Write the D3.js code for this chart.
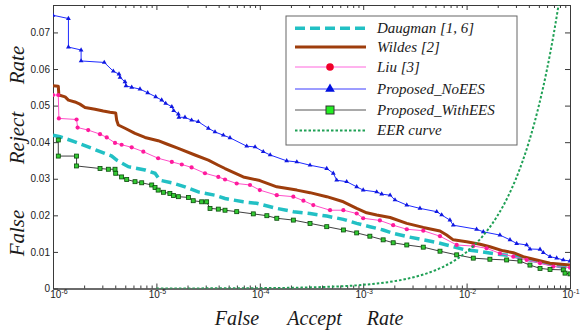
<!DOCTYPE html>
<html><head><meta charset="utf-8">
<script src="https://cdn.jsdelivr.net/npm/d3@7"></script>
<style>
html,body{margin:0;padding:0;background:#fff;}
svg{display:block;}
</style></head>
<body>
<svg id="chart" width="580" height="330"></svg>
<script>
// ---------- data ----------
const seriesNames = ["Daugman [1, 6]", "Wildes [2]", "Liu [3]", "Proposed_NoEES", "Proposed_WithEES", "EER curve"];

const daugmanFAR = [1.0e-6,1.17e-6,1.63e-6,2.19e-6,3.18e-6,3.70e-6,4.13e-6,5.35e-6,7.76e-6,9.7e-6,1.08e-5,1.41e-5,1.89e-5,2.54e-5,3.69e-5,4.61e-5,6.92e-5,9.33e-5,1.46e-4,2.11e-4,3.06e-4,4.44e-4,6.43e-4,8.65e-4,1.16e-3,1.56e-3,1.95e-3,2.64e-3,3.81e-3,5.14e-3,6.41e-3,9.29e-3,1.35e-2,1.95e-2,2.83e-2,4.10e-2,5.96e-2,8.0e-2,0.1];
const daugmanFRR = [0.0419,0.0415,0.0401,0.0387,0.0369,0.0362,0.0351,0.0333,0.0324,0.0315,0.0296,0.0289,0.0278,0.0264,0.0255,0.0246,0.0237,0.0233,0.0219,0.0210,0.0205,0.0198,0.0189,0.0178,0.0169,0.0160,0.0151,0.0142,0.0133,0.0126,0.0119,0.0107,0.0101,0.0094,0.0089,0.0078,0.0069,0.0060,0.0058];

const wildesFAR = [1.0e-6,1.125e-6,1.14e-6,1.31e-6,1.41e-6,1.63e-6,1.82e-6,2.04e-6,2.55e-6,3.06e-6,3.56e-6,4.04e-6,4.13e-6,4.28e-6,4.97e-6,6.21e-6,7.76e-6,1.04e-5,1.26e-5,1.63e-5,2.36e-5,3.18e-5,3.97e-5,4.61e-5,6.92e-5,1.0e-4,1.46e-4,2.28e-4,3.06e-4,4.44e-4,6.43e-4,8.65e-4,1.08e-3,1.35e-3,1.82e-3,2.64e-3,3.81e-3,5.53e-3,6.41e-3,7.43e-3,1.0e-2,1.35e-2,1.68e-2,2.26e-2,2.83e-2,3.53e-2,4.76e-2,6.41e-2,0.1];
const wildesFRR = [0.0554,0.0553,0.0529,0.0524,0.0515,0.0510,0.0504,0.0495,0.0490,0.0485,0.0482,0.0480,0.0460,0.0447,0.0438,0.0424,0.0413,0.0404,0.0395,0.0383,0.0365,0.0351,0.0337,0.0328,0.0305,0.0295,0.0278,0.0269,0.0262,0.0251,0.0237,0.0219,0.0207,0.0201,0.0194,0.0178,0.0167,0.0157,0.0146,0.0133,0.0128,0.0121,0.0114,0.0103,0.0098,0.0087,0.0078,0.0069,0.0064];

const liuFAR = [1.0e-6,1.125e-6,1.14e-6,1.69e-6,1.73e-6,2.19e-6,2.85e-6,3.31e-6,3.98e-6,4.61e-6,5.77e-6,7.47e-6,1.04e-5,1.41e-5,1.76e-5,2.19e-5,2.95e-5,3.97e-5,4.61e-5,5.98e-5,8.04e-5,1.0e-4,1.46e-4,2.11e-4,2.64e-4,3.29e-4,4.78e-4,6.43e-4,8.65e-4,1.0e-3,1.45e-3,1.95e-3,2.64e-3,3.81e-3,5.53e-3,8.02e-3,1.16e-2,1.56e-2,2.10e-2,2.83e-2,3.81e-2,5.13e-2,6.90e-2,0.1];
const liuFRR = [0.0529,0.0529,0.0465,0.0462,0.0440,0.0433,0.0422,0.0413,0.0398,0.0393,0.0386,0.0374,0.0356,0.0346,0.0339,0.0331,0.0315,0.0305,0.0298,0.0287,0.0283,0.0269,0.0255,0.0251,0.0240,0.0228,0.0214,0.0214,0.0205,0.0192,0.0186,0.0173,0.0162,0.0158,0.0143,0.0119,0.0116,0.0110,0.0096,0.0087,0.0078,0.0069,0.0060,0.0057];

const noEesFAR = [1.0e-6,1.41e-6,1.41e-6,1.87e-6,1.87e-6,3.13e-6,3.83e-6,4.35e-6,4.45e-6,4.97e-6,5.08e-6,5.77e-6,6.94e-6,8.24e-6,9.85e-6,1.125e-5,1.23e-5,1.41e-5,1.47e-5,1.63e-5,1.65e-5,1.89e-5,2.19e-5,2.54e-5,3.18e-5,3.69e-5,4.44e-5,5.15e-5,7.47e-5,9.0e-5,1.08e-4,1.26e-4,1.82e-4,2.28e-4,3.06e-4,4.44e-4,5.14e-4,5.54e-4,6.92e-4,8.65e-4,1.0e-3,1.35e-3,1.51e-3,1.82e-3,2.03e-3,2.64e-3,3.54e-3,5.14e-3,5.74e-3,6.9e-3,7.43e-3,1.25e-2,1.45e-2,2.10e-2,2.63e-2,3.05e-2,3.81e-2,4.10e-2,5.13e-2,5.52e-2,6.41e-2,7.43e-2,8.61e-2,0.1];
const noEesFRR = [0.0747,0.0738,0.0660,0.0652,0.0622,0.0618,0.0594,0.0586,0.0577,0.0565,0.0554,0.0550,0.0545,0.0535,0.0524,0.0515,0.0506,0.0497,0.0486,0.0477,0.0468,0.0468,0.0460,0.0456,0.0438,0.0428,0.0419,0.0412,0.0389,0.0387,0.0374,0.0365,0.0349,0.0346,0.0337,0.0328,0.0315,0.0296,0.0292,0.0278,0.0269,0.0264,0.0258,0.0255,0.0242,0.0228,0.0219,0.0210,0.0201,0.0187,0.0173,0.0162,0.0155,0.0146,0.0133,0.0123,0.0119,0.0108,0.0107,0.0098,0.0087,0.0083,0.0078,0.0075];

const withEesFAR = [1.125e-6,1.125e-6,1.69e-6,1.69e-6,2.85e-6,3.43e-6,3.98e-6,4.04e-6,4.61e-6,5.16e-6,6.21e-6,7.21e-6,9.01e-6,9.7e-6,1.04e-5,1.17e-5,1.35e-5,1.46e-5,1.63e-5,2.04e-5,2.27e-5,2.74e-5,3.06e-5,3.30e-5,3.97e-5,4.61e-5,5.98e-5,8.65e-5,1.17e-4,1.46e-4,2.11e-4,3.06e-4,4.44e-4,6.43e-4,8.65e-4,1.16e-3,1.56e-3,1.95e-3,2.64e-3,3.81e-3,5.53e-3,8.02e-3,1.16e-2,1.68e-2,2.44e-2,3.28e-2,4.10e-2,5.13e-2,6.41e-2,8.61e-2,8.95e-2,0.1];
const withEesFRR = [0.0406,0.0362,0.0362,0.0335,0.0328,0.0326,0.0326,0.0315,0.0305,0.0298,0.0292,0.0289,0.0283,0.0276,0.0269,0.0263,0.0260,0.0254,0.0251,0.0249,0.0240,0.0237,0.0237,0.0219,0.0217,0.0214,0.0210,0.0204,0.0199,0.0192,0.0187,0.0178,0.0169,0.0160,0.0152,0.0143,0.0133,0.0125,0.0119,0.0113,0.0102,0.0092,0.0083,0.0080,0.0078,0.0075,0.0064,0.0055,0.0052,0.0051,0.0042,0.0040];

const eerFAR = [1e-5,1e-4,3e-4,1e-3,2e-3,3e-3,4e-3,5e-3,6e-3,8e-3,0.01,0.012,0.014,0.016,0.018,0.02,0.025,0.03,0.035,0.04,0.045,0.05,0.055,0.06,0.065,0.07,0.0775];
const eerFRR = [1e-5,1e-4,3e-4,1e-3,2e-3,3e-3,4e-3,5e-3,6e-3,8e-3,0.01,0.012,0.014,0.016,0.018,0.02,0.025,0.03,0.035,0.04,0.045,0.05,0.055,0.06,0.065,0.07,0.0775];

const xMajorTicks = [1e-6,1e-5,1e-4,1e-3,1e-2,1e-1];
const xTickExponents = ["-6","-5","-4","-3","-2","-1"];
const yTicks = [0,0.01,0.02,0.03,0.04,0.05,0.06,0.07];
const yTickLabels = ["0","0.01","0.02","0.03","0.04","0.05","0.06","0.07"];

// ---------- layout ----------
const svg = d3.select("#chart");
const L = 53, R = 570, T = 5, B = 288.5;
const x = d3.scaleLog().domain([1e-6, 0.1]).range([L, R]);
const y = d3.scaleLinear().domain([0, 0.0775]).range([B, T]);
const axisColor = "#3a3a3a";
const serif = "'Liberation Serif','DejaVu Serif',serif";
const sans = "'Liberation Sans',Arial,sans-serif";

const xMinorTicks = [];
xMajorTicks.slice(0, -1).forEach(m => { for (let k = 2; k <= 9; k++) xMinorTicks.push(m * k); });

svg.append("defs").append("clipPath").attr("id", "clip")
  .append("rect").attr("x", L).attr("y", T).attr("width", R - L).attr("height", B - T);

// axes
function styleAxis(g) {
  g.selectAll("path,line").attr("stroke", axisColor).attr("stroke-width", 1);
  g.selectAll("text").attr("fill", "#222").attr("font-family", sans).attr("font-size", 10);
}
svg.append("g").attr("transform", `translate(0,${B})`)
  .call(d3.axisBottom(x).tickValues(xMinorTicks).tickSize(-3).tickSizeOuter(0).tickFormat(() => "")).call(styleAxis);
svg.append("g").attr("transform", `translate(0,${T})`)
  .call(d3.axisTop(x).tickValues(xMinorTicks).tickSize(-3).tickSizeOuter(0).tickFormat(() => "")).call(styleAxis);
const xb = svg.append("g").attr("transform", `translate(0,${B})`)
  .call(d3.axisBottom(x).tickValues(xMajorTicks).tickSize(-5).tickSizeOuter(0).tickFormat(() => "")).call(styleAxis);
svg.append("g").attr("transform", `translate(0,${T})`)
  .call(d3.axisTop(x).tickValues(xMajorTicks).tickSize(-5).tickSizeOuter(0).tickFormat(() => "")).call(styleAxis);
svg.append("g").attr("transform", `translate(${L},0)`)
  .call(d3.axisLeft(y).tickValues(yTicks).tickSize(-5).tickSizeOuter(0).tickPadding(3)
    .tickFormat((d, i) => yTickLabels[i])).call(styleAxis);
svg.append("g").attr("transform", `translate(${R},0)`)
  .call(d3.axisRight(y).tickValues(yTicks).tickSize(-5).tickSizeOuter(0).tickFormat(() => "")).call(styleAxis);

// x tick labels with superscript exponents
const xl = svg.append("g").attr("font-family", sans).attr("fill", "#222");
xMajorTicks.forEach((v, i) => {
  const t = xl.append("text").attr("x", x(v) + (i === 0 ? 6 : 1)).attr("y", 297.5)
    .attr("text-anchor", "middle").attr("font-size", 10);
  t.append("tspan").text("10");
  t.append("tspan").attr("dy", -4).attr("font-size", 7).text(xTickExponents[i]);
});

// ---------- series ----------
const plot = svg.append("g").attr("clip-path", "url(#clip)");
const zip = (a, b) => a.map((v, i) => [v, b[i]]);
const line = d3.line().x(d => x(d[0])).y(d => y(d[1]));

const daugman = zip(daugmanFAR, daugmanFRR);
const wildes = zip(wildesFAR, wildesFRR);
const liu = zip(liuFAR, liuFRR);
const noEes = zip(noEesFAR, noEesFRR);
const withEes = zip(withEesFAR, withEesFRR);
const eer = zip(eerFAR, eerFRR);

plot.append("path").datum(daugman).attr("d", line).attr("fill", "none")
  .attr("stroke", "#22c0c4").attr("stroke-width", 3.5).attr("stroke-dasharray", "10,5");
plot.append("path").datum(wildes).attr("d", line).attr("fill", "none")
  .attr("stroke", "#9e3d0c").attr("stroke-width", 3).attr("stroke-linejoin", "round");
plot.append("path").datum(liu).attr("d", line).attr("fill", "none")
  .attr("stroke", "#ff4fc8").attr("stroke-width", 1);
plot.selectAll(".liuM").data(liu).join("circle")
  .attr("cx", d => x(d[0])).attr("cy", d => y(d[1])).attr("r", 2.1).attr("fill", "#ff1a9c");
plot.append("path").datum(noEes).attr("d", line).attr("fill", "none")
  .attr("stroke", "#1f2bff").attr("stroke-width", 1);
const tri = d3.symbol().type(d3.symbolTriangle).size(10);
plot.selectAll(".noM").data(noEes).join("path")
  .attr("transform", d => `translate(${x(d[0])},${y(d[1])})`).attr("d", tri).attr("fill", "#1018e0");
plot.append("path").datum(withEes).attr("d", line).attr("fill", "none")
  .attr("stroke", "#2a2a2a").attr("stroke-width", 0.9);
plot.selectAll(".wM").data(withEes).join("rect")
  .attr("x", d => x(d[0]) - 2).attr("y", d => y(d[1]) - 2).attr("width", 4).attr("height", 4)
  .attr("fill", "#33cc33").attr("stroke", "#0a4a0a").attr("stroke-width", 0.8);
plot.append("path").datum(eer).attr("d", line.curve(d3.curveMonotoneX)).attr("fill", "none")
  .attr("stroke", "#1fa055").attr("stroke-width", 2).attr("stroke-dasharray", "2.5,2");

// ---------- legend ----------
const lg = svg.append("g");
lg.append("rect").attr("x", 286).attr("y", 16).attr("width", 231).attr("height", 129)
  .attr("fill", "#fff").attr("stroke", "#666").attr("stroke-width", 1);
const rowsY = [28.3, 47, 67, 89, 110, 130.5];
const lx0 = 295, lx1 = 366, lxm = 330;
lg.append("line").attr("x1", lx0).attr("x2", lx1).attr("y1", rowsY[0]).attr("y2", rowsY[0])
  .attr("stroke", "#22c0c4").attr("stroke-width", 3.5).attr("stroke-dasharray", "10,5");
lg.append("line").attr("x1", lx0).attr("x2", lx1).attr("y1", rowsY[1]).attr("y2", rowsY[1])
  .attr("stroke", "#9e3d0c").attr("stroke-width", 3);
lg.append("line").attr("x1", lx0).attr("x2", lx1).attr("y1", rowsY[2]).attr("y2", rowsY[2])
  .attr("stroke", "#ff66dd").attr("stroke-width", 1);
lg.append("circle").attr("cx", lxm).attr("cy", rowsY[2]).attr("r", 3.8).attr("fill", "#f0002a");
lg.append("line").attr("x1", lx0).attr("x2", lx1).attr("y1", rowsY[3]).attr("y2", rowsY[3])
  .attr("stroke", "#3a3aff").attr("stroke-width", 1);
lg.append("path").attr("transform", `translate(${lxm},${rowsY[3]})`)
  .attr("d", d3.symbol().type(d3.symbolTriangle).size(40)).attr("fill", "#0010e0");
lg.append("line").attr("x1", lx0).attr("x2", lx1).attr("y1", rowsY[4]).attr("y2", rowsY[4])
  .attr("stroke", "#555").attr("stroke-width", 1);
lg.append("rect").attr("x", lxm - 4).attr("y", rowsY[4] - 4).attr("width", 8).attr("height", 8)
  .attr("fill", "#22ee22").attr("stroke", "#333").attr("stroke-width", 1);
lg.append("line").attr("x1", lx0).attr("x2", lx1).attr("y1", rowsY[5]).attr("y2", rowsY[5])
  .attr("stroke", "#1fa055").attr("stroke-width", 2).attr("stroke-dasharray", "2.5,2");
seriesNames.forEach((n, i) => {
  lg.append("text").attr("x", 377).attr("y", rowsY[i] + 4.8).text(n)
    .attr("font-family", serif).attr("font-style", "italic").attr("font-size", 15).attr("fill", "#1a1a1a");
});

// ---------- axis titles ----------
const yWords = [["False", 233], ["Reject", 138], ["Rate", 65]];
yWords.forEach(([w, cy]) => {
  svg.append("text").attr("transform", `translate(24,${cy}) rotate(-90)`).attr("text-anchor", "middle")
    .attr("font-family", serif).attr("font-style", "italic").attr("font-size", 21).attr("fill", "#1a1a1a").text(w);
});
const xWords = [["False", 237], ["Accept", 314.5], ["Rate", 385]];
xWords.forEach(([w, cx]) => {
  svg.append("text").attr("x", cx).attr("y", 325).attr("text-anchor", "middle")
    .attr("font-family", serif).attr("font-style", "italic").attr("font-size", 20).attr("fill", "#1a1a1a").text(w);
});
</script>
</body></html>
